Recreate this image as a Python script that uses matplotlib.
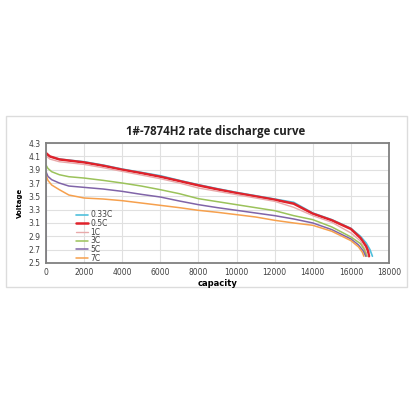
import matplotlib
matplotlib.use("Agg")
import matplotlib.pyplot as plt
from matplotlib.patches import Rectangle

# discharge data (capacity, voltage)
cap_033 = [0, 200, 700, 2000, 3000, 4000, 5000, 6000, 7000, 8000, 9000, 10000, 11000,
           12000, 13000, 14000, 15000, 16000, 16500, 16800, 17000, 17130]
v_033 = [4.14, 4.10, 4.06, 4.02, 3.97, 3.91, 3.86, 3.81, 3.74, 3.675, 3.615, 3.56, 3.51,
         3.46, 3.41, 3.25, 3.15, 3.02, 2.90, 2.80, 2.70, 2.60]

cap_05 = [0, 200, 700, 2000, 3000, 4000, 5000, 6000, 7000, 8000, 9000, 10000, 11000,
          12000, 13000, 14000, 15000, 16000, 16500, 16800, 16900, 16950]
v_05 = [4.15, 4.10, 4.055, 4.01, 3.96, 3.90, 3.85, 3.795, 3.73, 3.665, 3.605, 3.55, 3.50,
        3.45, 3.39, 3.24, 3.14, 3.01, 2.875, 2.75, 2.68, 2.60]

cap_1 = [0, 200, 700, 2000, 3000, 4000, 5000, 6000, 7000, 8000, 9000, 10000, 11000,
         12000, 13000, 14000, 15000, 16000, 16500, 16750, 16880]
v_1 = [4.11, 4.06, 4.02, 3.98, 3.93, 3.875, 3.82, 3.765, 3.70, 3.625, 3.575, 3.525, 3.475,
       3.425, 3.335, 3.21, 3.11, 2.95, 2.83, 2.70, 2.60]

cap_3 = [0, 100, 300, 700, 1200, 2000, 3000, 4000, 5000, 6000, 7000, 8000, 9000, 10000,
         11000, 12000, 13000, 14000, 15000, 16000, 16500, 16700, 16830]
v_3 = [3.97, 3.92, 3.87, 3.825, 3.795, 3.775, 3.74, 3.70, 3.655, 3.60, 3.54, 3.465, 3.42,
       3.375, 3.33, 3.285, 3.21, 3.15, 3.04, 2.89, 2.79, 2.70, 2.60]

cap_5 = [0, 0, 100, 300, 700, 1200, 2000, 3000, 4000, 5000, 6000, 7000, 8000, 9000, 10000,
         11000, 12000, 13000, 14000, 15000, 16000, 16400, 16650, 16780]
v_5 = [2.5, 3.87, 3.80, 3.75, 3.70, 3.655, 3.635, 3.61, 3.575, 3.53, 3.49, 3.43, 3.375, 3.33,
       3.29, 3.25, 3.21, 3.16, 3.10, 3.00, 2.86, 2.77, 2.68, 2.60]

cap_7 = [0, 100, 300, 700, 1200, 2000, 3000, 4000, 5000, 6000, 7000, 8000, 9000, 10000,
         11000, 12000, 13000, 14000, 15000, 16000, 16400, 16600, 16680]
v_7 = [3.82, 3.74, 3.67, 3.60, 3.52, 3.475, 3.46, 3.435, 3.40, 3.365, 3.33, 3.29, 3.26,
       3.225, 3.19, 3.14, 3.10, 3.065, 2.975, 2.835, 2.74, 2.66, 2.60]

labels = ["0.33C", "0.5C", "1C", "3C", "5C", "7C"]
colors = ["#4fc0dc", "#e0222b", "#e8a9aa", "#9bc25a", "#8064a8", "#f6a04d"]
widths = [1.2, 1.8, 1.0, 1.1, 1.1, 1.1]

fig = plt.figure(figsize=(4.16, 4.16), dpi=100)
panel = Rectangle((0.0144, 0.31), 0.964, 0.411, transform=fig.transFigure,
                  facecolor="white", edgecolor="#dcdcdc", linewidth=1.0, zorder=-10)
fig.patches.append(panel)

ax = fig.add_axes([0.1106, 0.368, 0.8245, 0.288])
ax.set_zorder(5)
series = [(cap_033, v_033), (cap_05, v_05), (cap_1, v_1),
          (cap_3, v_3), (cap_5, v_5), (cap_7, v_7)]
for (c, v), lab, col, lw in zip(series, labels, colors, widths):
    ax.plot(c, v, color=col, lw=lw, label=lab, solid_capstyle="round")

ax.set_xlim(0, 18000)
ax.set_ylim(2.5, 4.3)
ax.set_xticks(range(0, 18001, 2000))
ax.set_yticks([2.5 + 0.2 * i for i in range(10)])
ax.set_yticklabels(["%.1f" % (2.5 + 0.2 * i) for i in range(10)])
ax.grid(True, color="#e0e0e0", lw=0.8)
ax.set_axisbelow(True)
ax.tick_params(length=0, labelsize=5.5, labelcolor="#404040", pad=4)
for s in ax.spines.values():
    s.set_color("#808080")
    s.set_linewidth(1.3)

ax.set_xlabel("capacity", fontsize=6, fontweight="bold", labelpad=1)
ax.set_ylabel("Voltage", fontsize=5, fontweight="bold", labelpad=4)

fig.text(0.519, 0.683, "1#-7874H2 rate discharge curve", ha="center", va="center",
         fontsize=8.3, fontweight="bold", family="Open Sans", color="#222222")

leg = ax.legend(loc="upper left", bbox_to_anchor=(0.088, 0.44), frameon=False,
                fontsize=5.5, handlelength=1.5, handletextpad=0.35,
                labelspacing=-0.04, borderpad=0, borderaxespad=0)
for t in leg.get_texts():
    t.set_color("#404040")

fig.savefig("out.png", dpi=100)
